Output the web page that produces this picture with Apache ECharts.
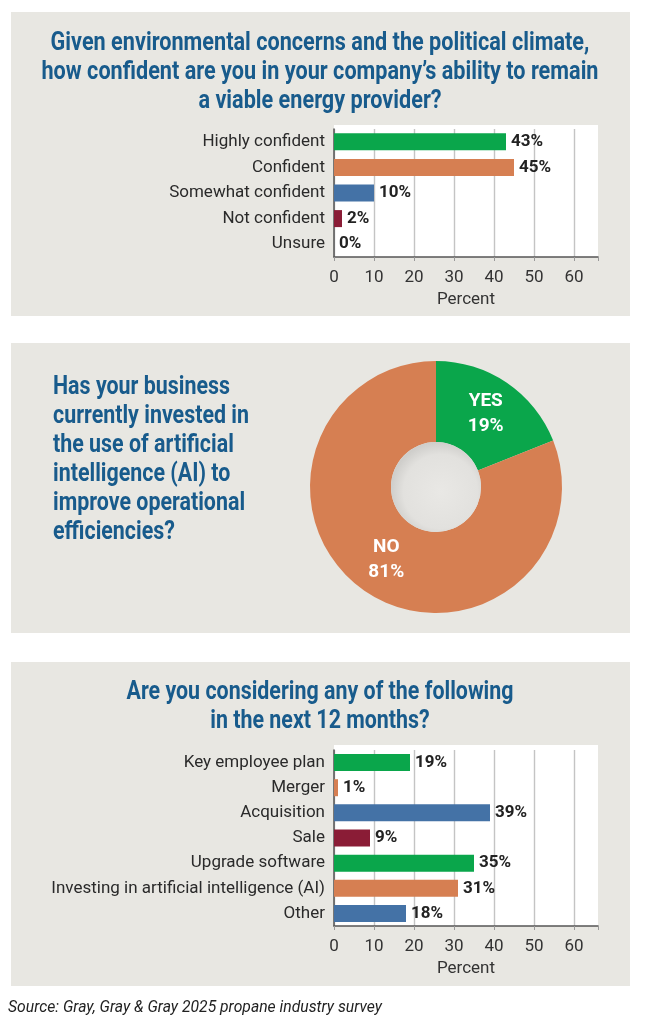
<!DOCTYPE html>
<html>
<head>
<meta charset="utf-8">
<script src="https://cdn.jsdelivr.net/npm/echarts@6/dist/echarts.min.js"></script>
<style>
  html, body { margin: 0; padding: 0; background: #fff; }
  #chart { width: 647px; height: 1024px; }
</style>
</head>
<body>
<div id="chart"></div>
<script>
// chart 1: confidence
var confCats = ['Highly confident', 'Confident', 'Somewhat confident', 'Not confident', 'Unsure'];
var confVals = [43, 45, 10, 2, 0];
// chart 2: AI investment
var aiNames = ['YES', 'NO'];
var aiVals = [19, 81];
// chart 3: plans for next 12 months
var planCats = ['Key employee plan', 'Merger', 'Acquisition', 'Sale', 'Upgrade software', 'Investing in artificial intelligence (AI)', 'Other'];
var planVals = [19, 1, 39, 9, 35, 31, 18];
var xTicks = [0, 10, 20, 30, 40, 50, 60];

var title1 = ['Given environmental concerns and the political climate,', 'how confident are you in your company\u2019s ability to remain', 'a viable energy provider?'];
var title2 = ['Has your business', 'currently invested in', 'the use of artificial', 'intelligence (AI) to', 'improve operational', 'efficiencies?'];
var title3 = ['Are you considering any of the following', 'in the next 12 months?'];
var source = 'Source: Gray, Gray & Gray 2025 propane industry survey';

var GREEN = '#0aa64b', ORANGE = '#d67f52', BLUE = '#4472a6', MAROON = '#8a1c36';
var confColors = [GREEN, ORANGE, BLUE, MAROON, MAROON];
var planColors = [GREEN, ORANGE, BLUE, MAROON, GREEN, ORANGE, BLUE];
var FONT = 'Roboto, "Noto Sans", sans-serif';
var TITLE_FONT = 'bold 26px ' + FONT;
var TITLE_BLUE = '#185b8c';
var PANEL = '#e8e7e2';
var GRIDLINE = '#c4c4c4';

// squeeze text horizontally so it looks like the condensed face of the original
var measureCtx = document.createElement('canvas').getContext('2d');
function squeeze(lines, font, targetWidth) {
    measureCtx.font = font;
    var w = 0;
    lines.forEach(function (l) { w = Math.max(w, measureCtx.measureText(l).width); });
    return targetWidth / w;
}
function titleText(lines, x, y, align, target) {
    return {
        type: 'text', x: x, y: y, z: 10,
        scaleX: squeeze(lines, TITLE_FONT, target), originX: 0, originY: 0,
        style: {
            text: lines.join('\n'), font: TITLE_FONT, fill: TITLE_BLUE, lineHeight: 29,
            textAlign: align, textVerticalAlign: 'middle'
        }
    };
}

function makeX(gridIndex) {
    return {
        type: 'value', gridIndex: gridIndex, min: 0, max: 66, interval: 10,
        name: 'Percent', nameLocation: 'middle', nameGap: 34,
        nameTextStyle: { fontFamily: FONT, fontSize: 17, color: '#333' },
        axisLine: { show: true, lineStyle: { color: '#555', width: 1.5 } },
        axisTick: { show: true, length: 4, lineStyle: { color: '#999' } },
        axisLabel: {
            fontFamily: FONT, fontSize: 17, color: '#333', margin: 12,
            formatter: function (v) { return xTicks.indexOf(v) >= 0 ? v : ''; }
        },
        // no gridline on the 66 edge
        splitLine: {
            show: true,
            lineStyle: { color: [GRIDLINE, GRIDLINE, GRIDLINE, GRIDLINE, GRIDLINE, GRIDLINE, GRIDLINE, 'rgba(0,0,0,0)'], width: 1.4 }
        }
    };
}
function makeY(gridIndex, cats) {
    return {
        type: 'category', gridIndex: gridIndex, data: cats, inverse: true,
        axisLine: { show: true, lineStyle: { color: '#555', width: 1.5 } },
        axisTick: { show: false },
        axisLabel: { fontFamily: FONT, fontSize: 17, color: '#2a2a2a', margin: 9 }
    };
}
function makeBars(idx, vals, colors) {
    return {
        type: 'bar', xAxisIndex: idx, yAxisIndex: idx, barWidth: 17,
        data: vals.map(function (v, i) { return { value: v, itemStyle: { color: colors[i] } }; }),
        label: {
            show: true, position: 'right', distance: 5, formatter: '{c}%',
            fontFamily: FONT, fontSize: 17, fontWeight: 'bold', color: '#222'
        }
    };
}

var chart = echarts.init(document.getElementById('chart'));
chart.setOption({
    backgroundColor: '#fff',
    animation: false,
    graphic: [
        { type: 'rect', z: -10, shape: { x: 11, y: 12, width: 619, height: 304 }, style: { fill: PANEL } },
        { type: 'rect', z: -10, shape: { x: 11, y: 343, width: 619, height: 290 }, style: { fill: PANEL } },
        { type: 'rect', z: -10, shape: { x: 11, y: 662, width: 619, height: 324 }, style: { fill: PANEL } },
        // white plot backgrounds, a little taller than the bar bands
        { type: 'rect', z: -5, shape: { x: 334, y: 125, width: 264, height: 132 }, style: { fill: '#fff' } },
        { type: 'rect', z: -5, shape: { x: 334, y: 745, width: 264, height: 181 }, style: { fill: '#fff' } },
        {
            type: 'circle', z: 5, shape: { cx: 436, cy: 487, r: 45 },
            style: {
                fill: new echarts.graphic.RadialGradient(0.55, 0.55, 0.55, [
                    { offset: 0, color: '#e9e8e5' }, { offset: 0.75, color: '#e2e1de' }, { offset: 1, color: '#cfcecb' }
                ])
            }
        },
        titleText(title1, 320, 72, 'center', 557),
        titleText(title2, 53, 460, 'left', 196),
        titleText(title3, 320, 707, 'center', 387),
        {
            type: 'text', x: 8, y: 1008, z: 10,
            scaleX: squeeze([source], 'italic 16px ' + FONT, 374), originX: 0, originY: 0,
            style: { text: source, font: 'italic 16px ' + FONT, fill: '#222', textVerticalAlign: 'middle' }
        }
    ],
    grid: [
        { left: 334, width: 264, top: 129, height: 128, show: false },
        { left: 334, width: 264, top: 750, height: 176, show: false }
    ],
    xAxis: [makeX(0), makeX(1)],
    yAxis: [makeY(0, confCats), makeY(1, planCats)],
    series: [
        makeBars(0, confVals, confColors),
        makeBars(1, planVals, planColors),
        {
            type: 'pie', center: [436, 487], radius: [45, 126], startAngle: 90, clockwise: true,
            silent: true,
            data: aiNames.map(function (n, i) {
                return { name: n, value: aiVals[i], itemStyle: { color: i === 0 ? GREEN : ORANGE } };
            }),
            label: {
                show: true, position: 'inside', formatter: '{b}\n{c}%',
                fontFamily: FONT, fontSize: 19, fontWeight: 'bold', color: '#fff', lineHeight: 25
            },
            labelLine: { show: false }
        }
    ]
});
</script>
</body>
</html>
